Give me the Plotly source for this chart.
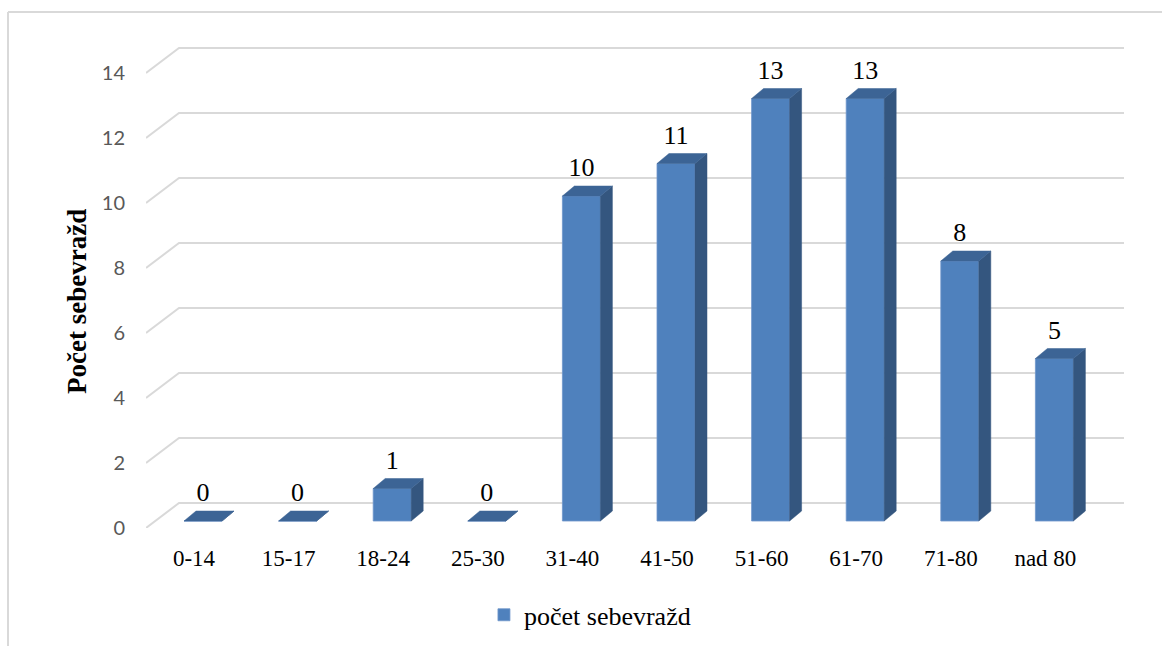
import plotly.graph_objects as go

# ---- data -------------------------------------------------------------
categories = ["0-14", "15-17", "18-24", "25-30", "31-40",
              "41-50", "51-60", "61-70", "71-80", "nad 80"]
suicides = [0, 0, 1, 0, 10, 11, 13, 13, 8, 5]
y_ticks = [0, 2, 4, 6, 8, 10, 12, 14]
series_name = "počet sebevražd"
axis_title = "Počet sebevražd"

# ---- pseudo-3D projection helpers -------------------------------------
PX_X = 94.6          # screen pixels per category step
PX_Y = 32.5          # screen pixels per unit of value


def ox(px):
    return px / PX_X


def oy(px):
    return px / PX_Y


X_MIN = -0.5074                      # left edge of the plot area (front plane)
X_MAX = X_MIN + 994 / PX_X
Y_MAX = 508 / PX_Y
WALL_DX, WALL_DY = ox(33), oy(25)    # depth of the back wall
BAR_DX, BAR_DY = ox(9), oy(7)        # front face of the bars
DEPTH_DX, DEPTH_DY = ox(12), oy(10)  # depth of each bar
HALF_W = ox(19)
GRID_END = X_MIN + (1124 - 146) / PX_X

FRONT = "#4F81BD"
SIDE = "#34567F"
TOP = "#3C6495"
GRID = "#D9D9D9"

fig = go.Figure()

# gridlines: slanted on the side wall, horizontal on the back wall
grid_shapes = []
for t in y_ticks:
    path = "M {:.4f},{:.4f} L {:.4f},{:.4f} L {:.4f},{:.4f}".format(
        X_MIN, t, X_MIN + WALL_DX, t + WALL_DY, GRID_END, t + WALL_DY)
    grid_shapes.append(dict(type="path", xref="x", yref="y", path=path,
                            layer="below", line=dict(color=GRID, width=2)))

# side and top faces of the bars
sx, sy, tx, ty = [], [], [], []
for i, v in enumerate(suicides):
    xc = i + BAR_DX
    xl, xr = xc - HALF_W, xc + HALF_W
    b = BAR_DY
    t = b + v
    sx += [xr, xr + DEPTH_DX, xr + DEPTH_DX, xr, xr, None]
    sy += [b, b + DEPTH_DY, t + DEPTH_DY, t, b, None]
    tx += [xl, xl + DEPTH_DX, xr + DEPTH_DX, xr, xl, None]
    ty += [t, t + DEPTH_DY, t + DEPTH_DY, t, t, None]

# front faces
fig.add_trace(go.Bar(
    x=[i + BAR_DX for i in range(len(categories))],
    y=suicides,
    base=BAR_DY,
    width=2 * HALF_W,
    marker=dict(color=FRONT, line=dict(color="#6F96CB", width=0.8)),
    name=series_name,
    hovertext=categories,
))

fig.add_trace(go.Scatter(x=sx, y=sy, mode="lines", fill="toself",
                         fillcolor=SIDE, line=dict(color=SIDE, width=0.5),
                         hoverinfo="skip", showlegend=False))
fig.add_trace(go.Scatter(x=tx, y=ty, mode="lines", fill="toself",
                         fillcolor=TOP, line=dict(color=TOP, width=0.5),
                         hoverinfo="skip", showlegend=False))

# value labels
fig.add_trace(go.Scatter(
    x=[i + BAR_DX for i in range(len(categories))],
    y=[v + 1.03 for v in suicides],
    text=[str(v) for v in suicides],
    mode="text",
    textposition="middle center",
    textfont=dict(family="Liberation Serif", size=26, color="#000000"),
    hoverinfo="skip", showlegend=False, cliponaxis=False,
))

border = [
    dict(type="line", xref="paper", yref="paper",
         x0=(8 - 146) / 994, x1=(1162 - 146) / 994,
         y0=(528 - 12) / 508, y1=(528 - 12) / 508,
         line=dict(color=GRID, width=2)),
    dict(type="line", xref="paper", yref="paper",
         x0=(8 - 146) / 994, x1=(8 - 146) / 994,
         y0=(528 - 12) / 508, y1=(528 - 646) / 508,
         line=dict(color=GRID, width=2)),
]

fig.update_layout(
    width=1162, height=646,
    margin=dict(l=146, r=22, t=20, b=118, autoexpand=False),
    paper_bgcolor="white", plot_bgcolor="white",
    showlegend=True,
    barmode="overlay",
    xaxis=dict(
        range=[X_MIN, X_MAX],
        tickmode="array",
        tickvals=list(range(len(categories))),
        ticktext=categories,
        showgrid=False, zeroline=False, showline=False,
        ticks="", ticklabelstandoff=14,
        tickfont=dict(family="Liberation Serif", size=23, color="#000000"),
    ),
    yaxis=dict(
        range=[0, Y_MAX],
        tickmode="array",
        tickvals=y_ticks,
        showgrid=False, zeroline=False, showline=False,
        ticks="", ticklabelstandoff=20,
        tickfont=dict(family="Lato", size=20, color="#595959"),
    ),
    legend=dict(
        orientation="h",
        x=0.340, xanchor="left",
        y=-0.171, yanchor="middle",
        font=dict(family="Liberation Serif", size=26, color="#000000"),
        bgcolor="rgba(0,0,0,0)",
    ),
    annotations=[dict(
        text="<b>" + axis_title + "</b>",
        textangle=-90,
        xref="paper", yref="paper",
        x=(77 - 146) / 994, y=(528 - 302) / 508,
        xanchor="center", yanchor="middle",
        showarrow=False,
        font=dict(family="Liberation Serif", size=27, color="#000000"),
    )],
    shapes=grid_shapes + border,
)

fig.write_html("out.html")
